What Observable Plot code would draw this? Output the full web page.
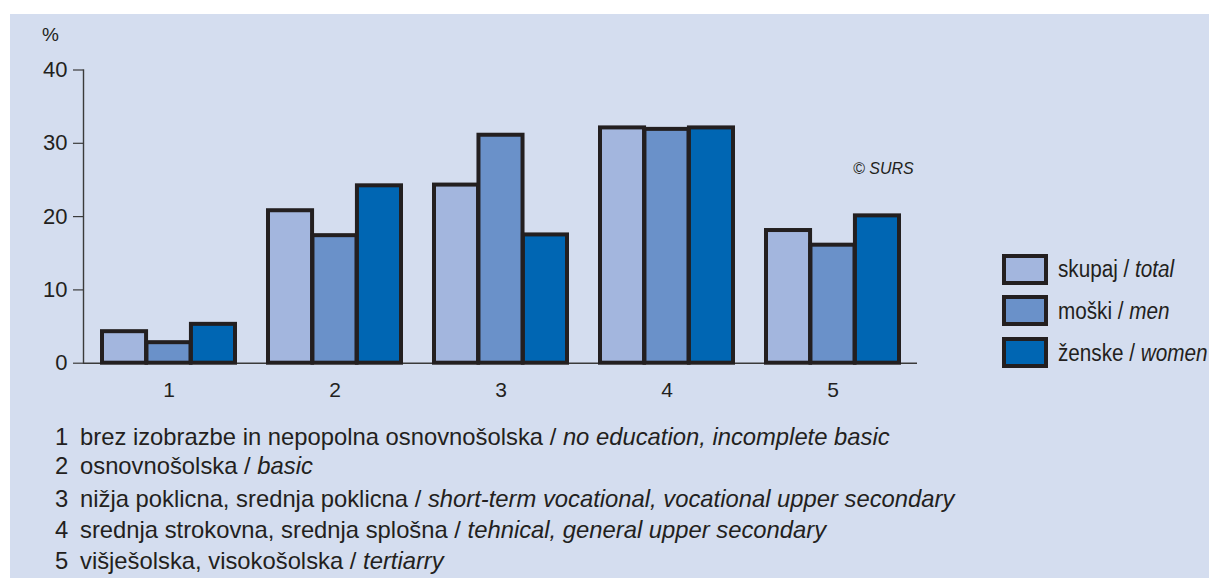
<!DOCTYPE html>
<html>
<head>
<meta charset="utf-8">
<script src="https://cdn.jsdelivr.net/npm/d3@7"></script>
<script src="https://cdn.jsdelivr.net/npm/@observablehq/plot@0.6"></script>
<style>
  html, body { margin: 0; padding: 0; background: #ffffff; }
  #page { position: relative; width: 1209px; height: 578px; overflow: hidden; font-family: "Liberation Sans", Arial, sans-serif; color: #231f20; }
  #panel { position: absolute; left: 10px; top: 14px; width: 1199px; height: 564px; background: #d4ddef; }
  #chart { position: absolute; left: 0; top: 0; }
  #chart svg { background: transparent !important; }
  .abs { position: absolute; white-space: nowrap; }
  .pct { left: 42px; top: 24px; font-size: 19px; line-height: 22px; }
  .copy { left: 853px; top: 159px; font-size: 16px; font-style: italic; line-height: 20px; }
  .leg-box { position: absolute; left: 1002px; width: 38px; height: 23px; border: 4px solid #231f20; }
  .leg-text { position: absolute; left: 1058px; white-space: nowrap; font-size: 23px; line-height: 26px; transform: scaleX(0.9); transform-origin: 0 50%; }
  .note { position: absolute; left: 55px; white-space: nowrap; font-size: 23.8px; line-height: 28px; }
  .note .n { display: inline-block; width: 25px; }
</style>
</head>
<body>
<div id="page">
  <div id="panel"></div>
  <div id="chart"></div>
</div>
<script>
const groups = ["1", "2", "3", "4", "5"];
const seriesKeys = ["total", "men", "women"];
const seriesLabels = ["skupaj / ", "moški / ", "ženske / "];
const seriesLabelsEn = ["total", "men", "women"];
const colors = ["#a3b6de", "#6a91c9", "#0066b3"];
const totalVals = [4.3, 20.8, 24.3, 32.1, 18.1];
const menVals = [2.8, 17.4, 31.1, 31.9, 16.1];
const womenVals = [5.3, 24.2, 17.5, 32.1, 20.1];
const yTicks = [0, 10, 20, 30, 40];
const notesSl = [
  "brez izobrazbe in nepopolna osnovnošolska / ",
  "osnovnošolska / ",
  "nižja poklicna, srednja poklicna / ",
  "srednja strokovna, srednja splošna / ",
  "višješolska, visokošolska / "
];
const notesEn = [
  "no education, incomplete basic",
  "basic",
  "short-term vocational, vocational upper secondary",
  "tehnical, general upper secondary",
  "tertiarry"
];

const valuesBySeries = [totalVals, menVals, womenVals];
const rows = [];
seriesKeys.forEach((s, i) => groups.forEach((g, j) => rows.push({group: g, series: s, idx: i, value: valuesBySeries[i][j]})));

const W = 1209, H = 410;
const bandW = 133.4;
const sub = bandW / 3;

const barMarks = seriesKeys.map((s, i) =>
  Plot.barY(rows.filter(r => r.series === s), {
    x: "group", y: "value", fill: colors[i],
    stroke: "#231f20", strokeWidth: 4, strokeLinejoin: "miter",
    insetLeft: i * sub, insetRight: (2 - i) * sub
  })
);

const chart = Plot.plot({
  width: W, height: H,
  marginLeft: 83, marginRight: 292, marginTop: 69.5, marginBottom: 47.3,
  style: {background: "transparent", fontFamily: "'Liberation Sans', Arial, sans-serif", color: "#231f20", overflow: "visible"},
  x: {domain: groups, paddingInner: 0.2, paddingOuter: 0.1},
  y: {domain: [0, 40]},
  marks: [
    Plot.axisY({ticks: yTicks, tickSize: 10, tickPadding: 6, fontSize: 22, label: null, stroke: "#3a3a3a", strokeWidth: 1.2}),
    Plot.axisX({tickSize: 0, tickPadding: 19, fontSize: 21, label: null}),
    Plot.frame({anchor: "left", stroke: "#3a3a3a", strokeWidth: 1.4}),
    Plot.ruleY([0], {stroke: "#3a3a3a", strokeWidth: 1.4}),
    ...barMarks
  ]
});
document.getElementById("chart").appendChild(chart);

const page = document.getElementById("page");
function add(cls, html, style) {
  const d = document.createElement("div");
  d.className = cls;
  d.innerHTML = html;
  Object.assign(d.style, style || {});
  page.appendChild(d);
  return d;
}
add("abs pct", "%");
add("abs copy", "© SURS");

const legTops = [254, 295, 337];
const legTextCenters = [269, 311, 353];
seriesKeys.forEach((s, i) => {
  add("leg-box", "", {top: legTops[i] + "px", background: colors[i]});
  add("leg-text", seriesLabels[i] + "<i>" + seriesLabelsEn[i] + "</i>", {top: (legTextCenters[i] - 13) + "px"});
});

const noteCenters = [437, 466, 499, 530, 561];
notesSl.forEach((t, i) => {
  add("note", '<span class="n">' + groups[i] + '</span>' + t + "<i>" + notesEn[i] + "</i>", {top: (noteCenters[i] - 14) + "px"});
});
</script>
</body>
</html>
